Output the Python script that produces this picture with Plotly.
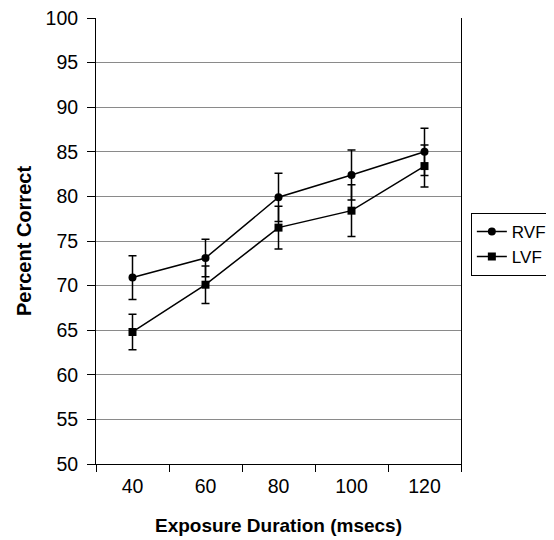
import plotly.graph_objects as go

durations = ["40", "60", "80", "100", "120"]
rvf = [70.9, 73.1, 79.9, 82.4, 85.0]
rvf_err = [2.45, 2.1, 2.7, 2.8, 2.65]
lvf = [64.8, 70.1, 76.5, 78.4, 83.4]
lvf_err = [2.0, 2.1, 2.4, 2.9, 2.35]
y_ticks = [50, 55, 60, 65, 70, 75, 80, 85, 90, 95, 100]

fig = go.Figure()
fig.add_trace(go.Scatter(
    x=durations, y=rvf, name="RVF", mode="lines+markers",
    line=dict(color="black", width=1.5),
    marker=dict(symbol="circle", size=8, color="black"),
    error_y=dict(type="data", array=rvf_err, visible=True, color="black", thickness=1.5, width=4),
))
fig.add_trace(go.Scatter(
    x=durations, y=lvf, name="LVF", mode="lines+markers",
    line=dict(color="black", width=1.5),
    marker=dict(symbol="square", size=8, color="black"),
    error_y=dict(type="data", array=lvf_err, visible=True, color="black", thickness=1.5, width=4),
))

# page body has an 8px margin, so the figure is sized to fit the window
fig.update_layout(
    width=546, height=532,
    margin=dict(l=88, r=93, t=10, b=76, autoexpand=False),
    paper_bgcolor="white", plot_bgcolor="white",
    font=dict(family="Liberation Sans, Arial, sans-serif", size=19.5, color="black"),
    showlegend=True,
    legend=dict(x=1.027, y=0.563, xanchor="left", yanchor="top",
                bordercolor="black", borderwidth=1, bgcolor="white",
                font=dict(size=17), tracegroupgap=0, itemwidth=30),
    xaxis=dict(
        type="category", range=[-0.5, 4.5], tickson="boundaries",
        ticks="outside", ticklen=7, tickcolor="black", ticklabelstandoff=5,
        showline=True, linecolor="black", linewidth=1,
        showgrid=False, zeroline=False, automargin=False,
        title=dict(text="<b>Exposure Duration (msecs)</b>", font=dict(size=19), standoff=22),
    ),
    yaxis=dict(
        range=[50, 100], tickvals=y_ticks, ticklabeloverflow="allow",
        ticks="outside", ticklen=8, tickcolor="black", ticklabelstandoff=5,
        showline=True, linecolor="black", linewidth=1, mirror=True,
        showgrid=True, gridcolor="#8a8a8a", gridwidth=1, zeroline=False, automargin=False,
        title=dict(text="<b>Percent Correct</b>", font=dict(size=20), standoff=8),
    ),
)

fig.write_html("out.html")
